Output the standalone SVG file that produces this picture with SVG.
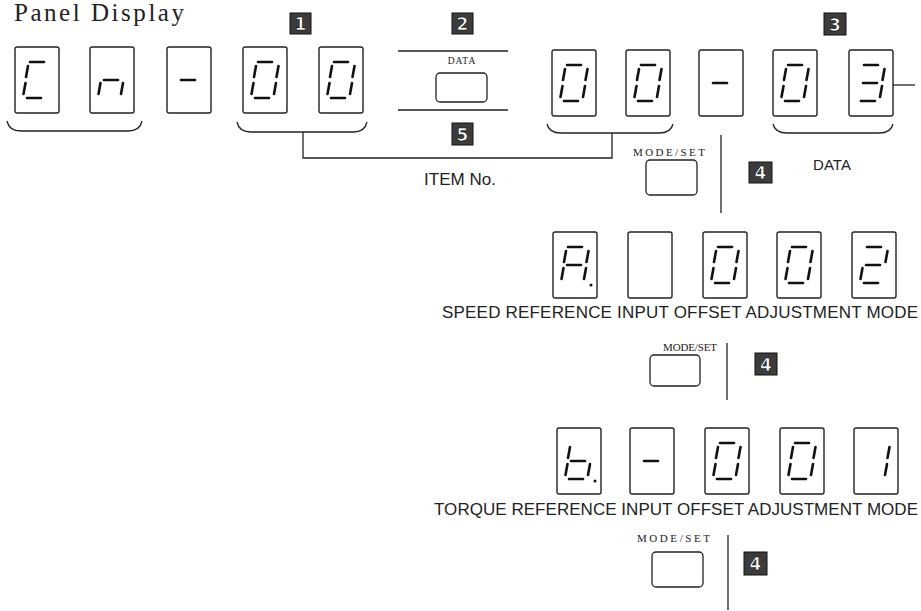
<svg xmlns="http://www.w3.org/2000/svg" xmlns:xlink="http://www.w3.org/1999/xlink" width="921" height="611" viewBox="0 0 921 611">
<style>
.box{fill:#fff;stroke:#222;stroke-width:1.4}
.seg{stroke:#111;stroke-width:2.6;stroke-linecap:round;fill:none}
.btn{fill:#fff;stroke:#222;stroke-width:1.3}
.ln{stroke:#222;stroke-width:1.3;fill:none}
.lbl{font-family:"Liberation Sans",Arial,sans-serif;fill:#222}
.ser{font-family:"Liberation Serif","Times New Roman",serif;fill:#222}
.bdg{fill:#3c3c3c;stroke:#111;stroke-width:1}
.bdt{font-family:"DejaVu Sans",sans-serif;font-weight:bold;font-size:17px;fill:#fff;stroke:#000;stroke-width:0.6;text-anchor:middle}
</style>
<defs>
<path id="sa" class="seg" d="M15,15 L29,15"/>
<path id="sb" class="seg" d="M35.5,19 L33.5,30"/>
<path id="sc" class="seg" d="M33,36 L31,47"/>
<path id="sd" class="seg" d="M12,51 L26,51"/>
<path id="se" class="seg" d="M10.5,36 L8.5,47"/>
<path id="sf" class="seg" d="M13,19 L11,30"/>
<path id="sg" class="seg" d="M14,33 L28,33"/>
<circle id="sp" cx="38" cy="53" r="1.5" fill="#111"/>
<g id="d0"><use xlink:href="#sa"/><use xlink:href="#sb"/><use xlink:href="#sc"/><use xlink:href="#sd"/><use xlink:href="#se"/><use xlink:href="#sf"/></g>
<g id="dC"><use xlink:href="#sa"/><use xlink:href="#sd"/><use xlink:href="#se"/><use xlink:href="#sf"/></g>
<g id="dn"><use xlink:href="#sc"/><use xlink:href="#se"/><use xlink:href="#sg"/></g>
<g id="dm"><use xlink:href="#sg"/></g>
<g id="d3"><use xlink:href="#sa"/><use xlink:href="#sb"/><use xlink:href="#sc"/><use xlink:href="#sd"/><use xlink:href="#sg"/></g>
<g id="d2"><use xlink:href="#sa"/><use xlink:href="#sb"/><use xlink:href="#sg"/><use xlink:href="#se"/><use xlink:href="#sd"/></g>
<g id="d1"><use xlink:href="#sb"/><use xlink:href="#sc"/></g>
<g id="dA"><use xlink:href="#sa"/><use xlink:href="#sb"/><use xlink:href="#sc"/><use xlink:href="#se"/><use xlink:href="#sf"/><use xlink:href="#sg"/><use xlink:href="#sp"/></g>
<g id="db"><use xlink:href="#sf"/><use xlink:href="#se"/><use xlink:href="#sg"/><use xlink:href="#sc"/><use xlink:href="#sd"/><use xlink:href="#sp"/></g>
<rect id="bx" class="box" x="0" y="0" width="44" height="66" rx="2"/>
</defs>
<rect width="921" height="611" fill="#fff"/>
<text class="ser" x="14" y="21" font-size="25" textLength="170" lengthAdjust="spacing">Panel Display</text>

<g id="connectors">
<path class="ln" d="M7,121 Q9,131 21,131 L128,131 Q140,131 142,121"/>
<path class="ln" d="M237,122 Q239,132 251,132 L353,132 Q365,132 367,122"/>
<path class="ln" d="M547,124 Q549,133 561,133 L659,133 Q671,133 673,124"/>
<path class="ln" d="M773,124 Q775,133 787,133 L879,133 Q891,133 893,124"/>
<path class="ln" d="M303,132 L303,158 L612,158 L612,133"/>
<path class="ln" d="M893,85 L915,85"/>
<path class="ln" d="M721,135 L721,213"/>
<path class="ln" d="M727,343 L727,400"/>
<path class="ln" d="M728,535 L728,610"/>
</g>

<g id="row1-C"><use xlink:href="#bx" x="15" y="47"/><use xlink:href="#dC" x="15" y="47"/></g>
<g id="row1-n"><use xlink:href="#bx" x="90" y="47"/><use xlink:href="#dn" x="90" y="47"/></g>
<g id="row1-dash"><use xlink:href="#bx" x="167" y="47"/><use xlink:href="#dm" x="167" y="47"/></g>
<g id="row1-0a"><use xlink:href="#bx" x="243" y="47"/><use xlink:href="#d0" x="243" y="47"/></g>
<g id="row1-0b"><use xlink:href="#bx" x="319" y="47"/><use xlink:href="#d0" x="319" y="47"/></g>

<g id="data-key">
<path class="ln" d="M398,51 L508,51 M398,110 L508,110"/>
<text class="ser" x="462" y="64" font-size="9.5" text-anchor="middle" letter-spacing="1">DATA</text>
<rect class="btn" x="436" y="73" width="51" height="29" rx="4"/>
</g>

<g id="row1-0c"><use xlink:href="#bx" x="552" y="50"/><use xlink:href="#d0" x="552" y="50"/></g>
<g id="row1-0d"><use xlink:href="#bx" x="626" y="50"/><use xlink:href="#d0" x="626" y="50"/></g>
<g id="row1-dash2"><use xlink:href="#bx" x="699" y="50"/><use xlink:href="#dm" x="699" y="50"/></g>
<g id="row1-0e"><use xlink:href="#bx" x="773" y="50"/><use xlink:href="#d0" x="773" y="50"/></g>
<g id="row1-3"><use xlink:href="#bx" x="849" y="50"/><use xlink:href="#d3" x="849" y="50"/></g>

<g id="badge1"><rect class="bdg" x="290" y="13" width="21" height="21"/><text class="bdt" x="300.5" y="30">1</text></g>
<g id="badge2"><rect class="bdg" x="452" y="13" width="21" height="21"/><text class="bdt" x="462.5" y="30">2</text></g>
<g id="badge3"><rect class="bdg" x="824" y="13" width="22" height="22"/><text class="bdt" x="835" y="30.5">3</text></g>
<g id="badge5"><rect class="bdg" x="452" y="123" width="21" height="22"/><text class="bdt" x="462.5" y="140.5">5</text></g>

<g id="label-item"><text class="lbl" x="460" y="185" font-size="17" text-anchor="middle">ITEM No.</text></g>
<g id="label-data"><text class="lbl" x="832" y="170" font-size="15" text-anchor="middle">DATA</text></g>

<g id="modeset1">
<text class="ser" x="633" y="156" font-size="11" textLength="72" lengthAdjust="spacing">MODE/SET</text>
<rect class="btn" x="646" y="160" width="51" height="35" rx="4"/>
</g>
<g id="badge4a"><rect class="bdg" x="749" y="162" width="23" height="21"/><text class="bdt" x="760.5" y="179">4</text></g>

<g id="row2-A"><use xlink:href="#bx" x="553" y="232"/><use xlink:href="#dA" x="553" y="232"/></g>
<g id="row2-blank"><use xlink:href="#bx" x="628" y="232"/></g>
<g id="row2-0a"><use xlink:href="#bx" x="703" y="232"/><use xlink:href="#d0" x="703" y="232"/></g>
<g id="row2-0b"><use xlink:href="#bx" x="777" y="232"/><use xlink:href="#d0" x="777" y="232"/></g>
<g id="row2-2"><use xlink:href="#bx" x="852" y="232"/><use xlink:href="#d2" x="852" y="232"/></g>
<text class="lbl" x="442" y="318" font-size="17" textLength="476" lengthAdjust="spacing">SPEED REFERENCE INPUT OFFSET ADJUSTMENT MODE</text>

<g id="modeset2">
<text class="ser" x="663" y="351" font-size="11" textLength="54" lengthAdjust="spacing">MODE/SET</text>
<rect class="btn" x="650" y="355" width="50" height="31" rx="4"/>
</g>
<g id="badge4b"><rect class="bdg" x="755" y="353" width="22" height="22"/><text class="bdt" x="766" y="370.5">4</text></g>

<g id="row3-b"><use xlink:href="#bx" x="557" y="428"/><use xlink:href="#db" x="557" y="428"/></g>
<g id="row3-dash"><use xlink:href="#bx" x="630" y="428"/><use xlink:href="#dm" x="630" y="428"/></g>
<g id="row3-0a"><use xlink:href="#bx" x="705" y="428"/><use xlink:href="#d0" x="705" y="428"/></g>
<g id="row3-0b"><use xlink:href="#bx" x="780" y="428"/><use xlink:href="#d0" x="780" y="428"/></g>
<g id="row3-1"><use xlink:href="#bx" x="854" y="428"/><use xlink:href="#d1" x="854" y="428"/></g>
<text class="lbl" x="434" y="515" font-size="17" textLength="484" lengthAdjust="spacing">TORQUE REFERENCE INPUT OFFSET ADJUSTMENT MODE</text>

<g id="modeset3">
<text class="ser" x="637" y="542" font-size="11" textLength="73" lengthAdjust="spacing">MODE/SET</text>
<rect class="btn" x="652" y="552" width="51" height="35" rx="4"/>
</g>
<g id="badge4c"><rect class="bdg" x="744" y="552" width="23" height="23"/><text class="bdt" x="755.5" y="570">4</text></g>
</svg>
